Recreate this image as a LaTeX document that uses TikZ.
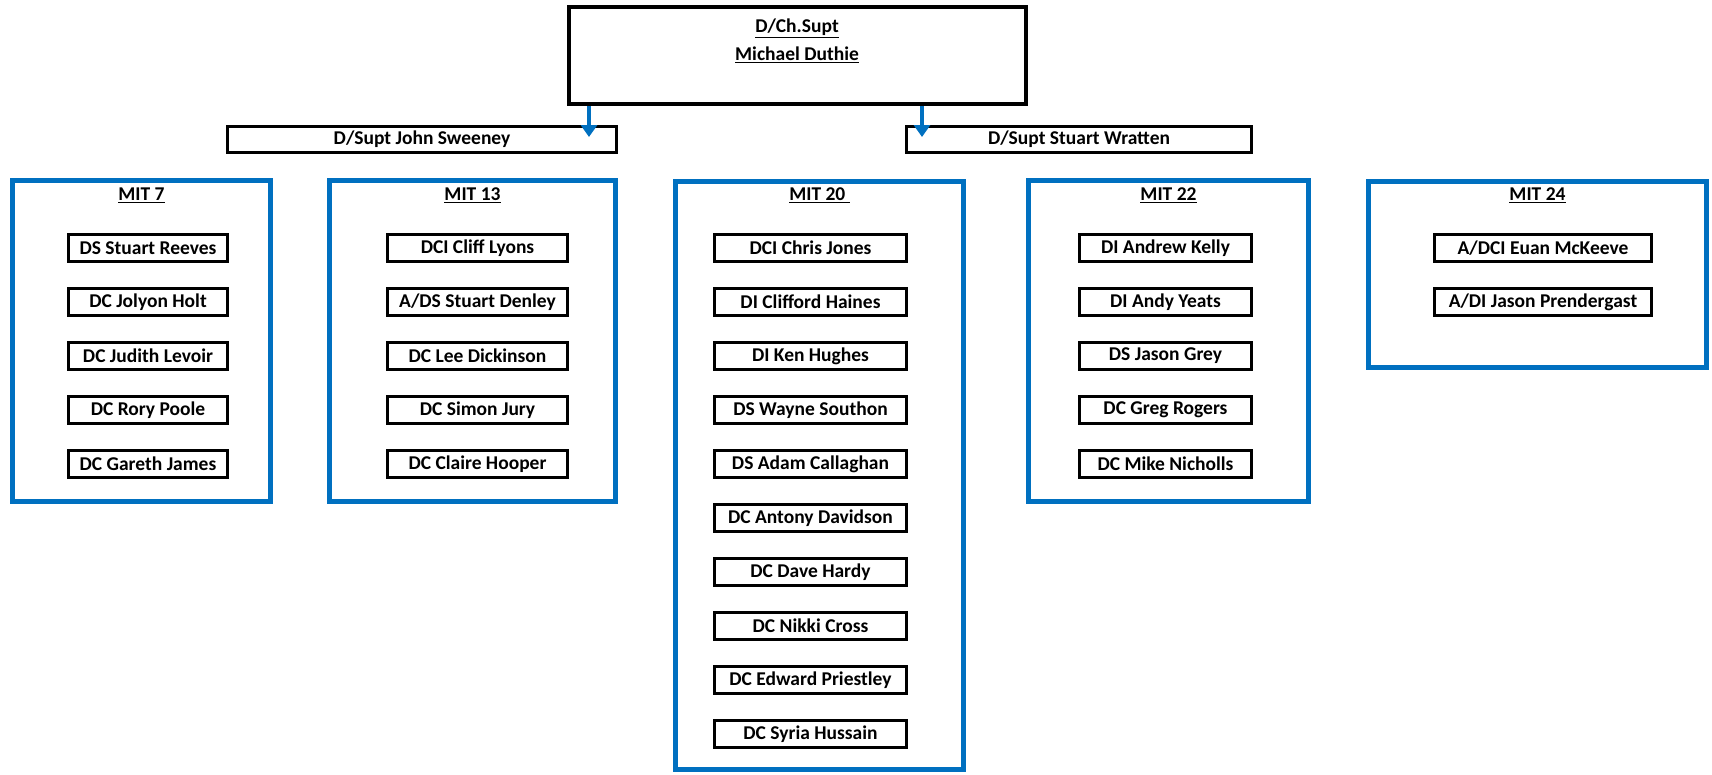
\documentclass[tikz,border=0pt]{standalone}
\usepackage{fontspec}
\setmainfont{Carlito}
\usetikzlibrary{arrows.meta}
\definecolor{mitblue}{RGB}{0,112,192}

\begin{document}
\begin{tikzpicture}[x=1pt,y=-1pt]

\tikzset{txt/.style = {font=\bfseries\fontsize{19.5}{22}\selectfont, inner sep=0pt}}
\tikzset{team/.style = {draw=mitblue, line width=5pt, inner sep=0pt}}
\tikzset{member/.style = {txt, draw, line width=3pt, minimum height=27pt, minimum width=#1}}
\tikzset{supt/.style = {txt, draw, line width=3pt, minimum height=26pt, minimum width=#1}}
\tikzset{edge/.style = {draw=mitblue, line width=4pt, -{Triangle[width=16pt,length=12pt]}}}

\useasboundingbox (0,0) rectangle (1712,774);

%top
\node[draw, line width=4pt, minimum width=457pt, minimum height=97pt] (boss) at (797,55.5) {};
\node[txt] (rank) at (797,28) {\underline{D/Ch.Supt}};
\node[txt] (name) at (797,55) {\underline{Michael Duthie}};
\node[supt=389pt] (sweeney) at (422,139.5) {D/Supt John Sweeney};
\node[supt=345pt] (wratten) at (1079,139.5) {D/Supt Stuart Wratten};

%teams
\node[team, minimum width=258pt, minimum height=321pt] (mit7) at (141.5,341) {};
\node[team, minimum width=286pt, minimum height=321pt] (mit13) at (472.5,341) {};
\node[team, minimum width=288pt, minimum height=588pt] (mit20) at (819.5,475.5) {};
\node[team, minimum width=280pt, minimum height=321pt] (mit22) at (1168.5,341) {};
\node[team, minimum width=338pt, minimum height=186pt] (mit24) at (1537.5,274.5) {};
\node[txt] (t7) at (141.5,195) {\underline{MIT 7}};
\node[txt] (t13) at (472.5,195) {\underline{MIT 13}};
\node[txt] (t20) at (819.5,195) {\underline{MIT 20\ }};
\node[txt] (t22) at (1168.5,195) {\underline{MIT 22}};
\node[txt] (t24) at (1537.5,195) {\underline{MIT 24}};

%MIT 7
\node[member=159pt] (a1) at (148,248) {DS Stuart Reeves};
\node[member=159pt] (a2) at (148,302) {DC Jolyon Holt};
\node[member=159pt] (a3) at (148,356) {DC Judith Levoir};
\node[member=159pt] (a4) at (148,410) {DC Rory Poole};
\node[member=159pt] (a5) at (148,464) {DC Gareth James};

%MIT 13
\node[member=180pt] (b1) at (477.5,248) {DCI Cliff Lyons};
\node[member=180pt] (b2) at (477.5,302) {A/DS Stuart Denley};
\node[member=180pt] (b3) at (477.5,356) {DC Lee Dickinson};
\node[member=180pt] (b4) at (477.5,410) {DC Simon Jury};
\node[member=180pt] (b5) at (477.5,464) {DC Claire Hooper};

%MIT 20
\node[member=192pt] (c1) at (810.5,248) {DCI Chris Jones};
\node[member=192pt] (c2) at (810.5,302) {DI Clifford Haines};
\node[member=192pt] (c3) at (810.5,356) {DI Ken Hughes};
\node[member=192pt] (c4) at (810.5,410) {DS Wayne Southon};
\node[member=192pt] (c5) at (810.5,464) {DS Adam Callaghan};
\node[member=192pt] (c6) at (810.5,518) {DC Antony Davidson};
\node[member=192pt] (c7) at (810.5,572) {DC Dave Hardy};
\node[member=192pt] (c8) at (810.5,626) {DC Nikki Cross};
\node[member=192pt] (c9) at (810.5,680) {DC Edward Priestley};
\node[member=192pt] (c10) at (810.5,734) {DC Syria Hussain};

%MIT 22
\node[member=172pt] (d1) at (1165.5,248) {DI Andrew Kelly};
\node[member=172pt] (d2) at (1165.5,302) {DI Andy Yeats};
\node[member=172pt] (d3) at (1165.5,356) {DS Jason Grey};
\node[member=172pt] (d4) at (1165.5,410) {DC Greg Rogers};
\node[member=172pt] (d5) at (1165.5,464) {DC Mike Nicholls};

%MIT 24
\node[member=217pt] (e1) at (1543,248) {A/DCI Euan McKeeve};
\node[member=217pt] (e2) at (1543,302) {A/DI Jason Prendergast};

%arrows
\coordinate (tip1) at (589,137);
\coordinate (tip2) at (922,137);
\draw[edge] (boss.south -| tip1) -- (tip1);
\draw[edge] (boss.south -| tip2) -- (tip2);

\end{tikzpicture}
\end{document}
